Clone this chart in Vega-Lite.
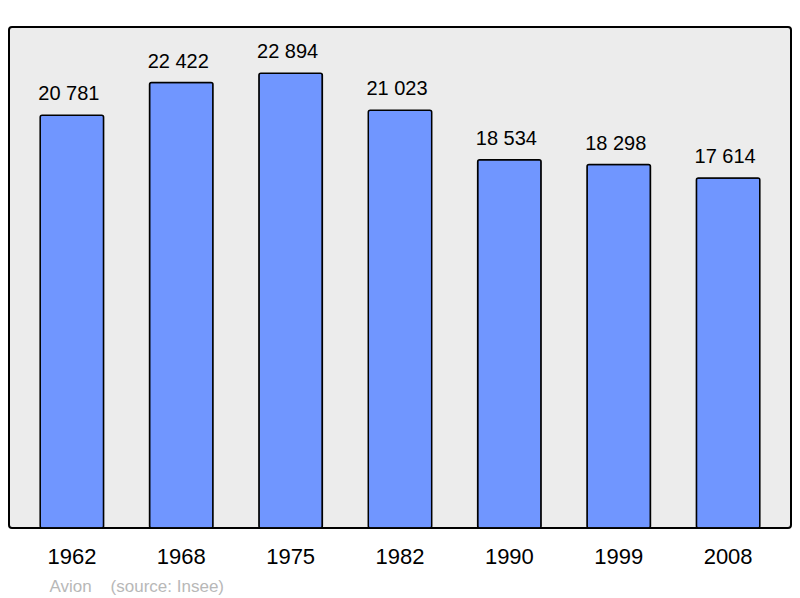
{
  "$schema": "https://vega.github.io/schema/vega-lite/v6.json",
  "width": 782,
  "height": 501,
  "autosize": "none",
  "padding": {"left": 9, "top": 27, "right": 9, "bottom": 70},
  "background": "white",
  "config": {
    "font": "Liberation Sans",
    "locale": {"number": {"decimal": ",", "thousands": " ", "grouping": [3], "currency": ["", " €"]}},
    "view": {"fill": "#ececec", "stroke": "black", "strokeWidth": 2, "cornerRadius": 3}
  },
  "data": {
    "values": [
      {"year": "1962", "pop": 20781},
      {"year": "1968", "pop": 22422},
      {"year": "1975", "pop": 22894},
      {"year": "1982", "pop": 21023},
      {"year": "1990", "pop": 18534},
      {"year": "1999", "pop": 18298},
      {"year": "2008", "pop": 17614}
    ]
  },
  "encoding": {
    "x": {
      "field": "year", "type": "nominal", "sort": null,
      "scale": {"paddingInner": 0.42, "paddingOuter": 0.285},
      "axis": {
        "title": "Avion\u00a0\u00a0\u00a0\u00a0(source: Insee)",
        "titleX": 40, "titleY": 63, "titleAlign": "left", "titleBaseline": "alphabetic",
        "titleFontSize": 17, "titleFontWeight": "normal", "titleColor": "#b8b8b8",
        "labelAngle": 0, "labelFontSize": 22, "labelColor": "black", "labelPadding": 18,
        "ticks": false, "tickSize": 0, "domain": false
      }
    },
    "y": {
      "field": "pop", "type": "quantitative",
      "scale": {"domain": [0, 25220], "nice": false},
      "axis": null
    }
  },
  "layer": [
    {"mark": {"type": "bar", "fill": "#7096ff", "stroke": "black", "strokeWidth": 1.5, "cornerRadius": 2}},
    {
      "mark": {"type": "text", "fontSize": 20, "baseline": "alphabetic", "dy": -15, "dx": -3, "color": "black"},
      "encoding": {"text": {"field": "pop", "type": "quantitative", "format": ","}}
    }
  ]
}
